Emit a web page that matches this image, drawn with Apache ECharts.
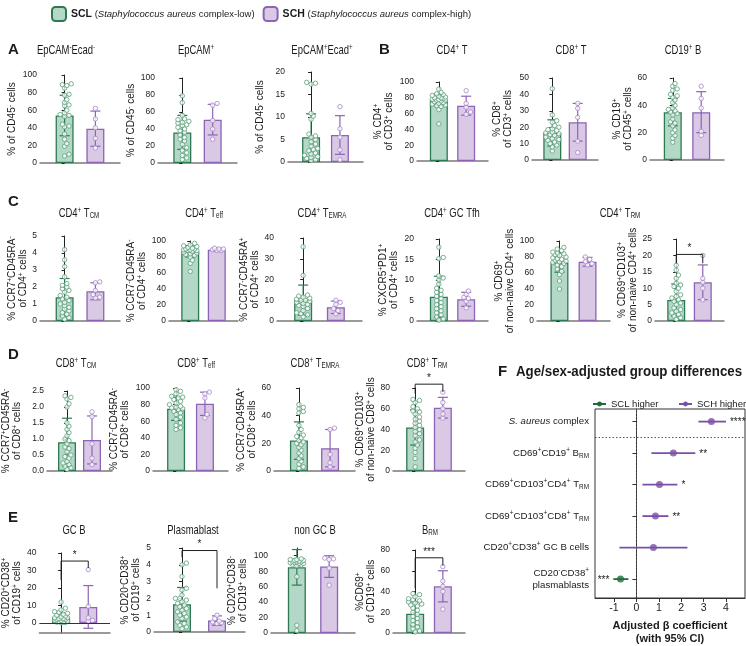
<!DOCTYPE html>
<html>
<head>
<meta charset="utf-8">
<script src="https://cdn.jsdelivr.net/npm/echarts@6/dist/echarts.min.js"></script>
<style>
  html, body { margin: 0; padding: 0; background: #fff; }
  #chart { width: 746px; height: 646px; }
</style>
</head>
<body>
<div id="chart"></div>
<script>
// ---- data ----
// points per panel (SCL = green, SCH = purple)
var epcamNegScl = [89, 85, 88, 90, 77, 78, 72, 69, 66, 65, 60, 57, 55, 54, 53, 44, 42, 41, 33, 27, 22, 19, 10, 8];
var epcamNegSch = [62, 50, 40, 28, 17];
var epcamPosScl = [79, 71, 56, 52, 51, 49, 48, 47, 45, 44, 42, 40, 38, 36, 33, 30, 28, 26, 22, 18, 15, 12, 9, 6, 4];
var epcamPosSch = [70, 68, 50, 40, 28];
var epcamEcadScl = [17.5, 17.3, 17.7, 10.8, 10.2, 9.5, 6.2, 5.8, 5.5, 5, 4.5, 4, 3.5, 3, 2.8, 2.5, 2, 1.8, 1.5, 1.2, 1, 0.8, 0.5, 0.3];
var epcamEcadSch = [12.3, 7.4, 5.5, 2.7, 0.5];
var cd4TScl = [91, 87, 85, 84, 83, 82, 81, 80, 80, 79, 78, 78, 77, 77, 76, 75, 74, 73, 72, 71, 70, 69, 65, 47];
var cd4TSch = [89, 73, 68, 62, 59];
var cd8TScl = [43.5, 27.5, 24, 23, 21, 20, 19, 18.5, 18, 17, 16.5, 16, 15.5, 15, 14, 13, 12.5, 12, 11, 10, 9, 8, 5.5];
var cd8TSch = [34.5, 31.5, 26, 11.5, 4.5];
var cd19BScl = [56, 54, 52, 51, 48, 47, 46, 44, 42, 40, 38, 37, 36, 35, 34, 33, 30, 28, 27, 25, 22, 20, 18, 16, 13];
var cd19BSch = [54, 45, 38, 21, 18];
var cd4TcmScl = [4.2, 3.6, 3.2, 2.6, 2.2, 2.1, 2.0, 1.9, 1.8, 1.7, 1.5, 1.4, 1.3, 1.2, 1.1, 1.0, 0.9, 0.8, 0.7, 0.6, 0.5, 0.4, 0.3, 0.2, 0.1];
var cd4TcmSch = [2.3, 2.25, 1.8, 1.55, 1.4, 1.35];
var cd4TeffScl = [97, 95, 94, 93, 92, 91, 90, 90, 89, 89, 88, 88, 87, 86, 85, 84, 83, 82, 80, 76, 72, 62];
var cd4TeffSch = [91, 90, 90, 89, 88, 88];
var cd4TemraScl = [35.8, 22, 12.5, 12, 11.5, 11, 10.5, 10, 10, 9.5, 9, 8.5, 8, 7.5, 7, 6, 5, 4, 3.5, 3, 2];
var cd4TemraSch = [10, 9, 8, 6, 5, 3.5];
var cd4TfhScl = [18, 15.5, 15.2, 11, 10.5, 10, 9, 8, 7.5, 7, 6.5, 6, 5.5, 5, 4.5, 4, 3.5, 3, 2.5, 2, 1.5, 1, 0.5, 0.2];
var cd4TfhSch = [7.3, 6.5, 5.8, 5.5, 4.8, 3.2];
var cd4Cd69Scl = [92, 90, 88, 86, 85, 84, 83, 82, 80, 79, 78, 77, 76, 75, 74, 73, 72, 70, 68, 65, 62, 58, 50, 40];
var cd4Cd69Sch = [80, 77, 74, 72, 70];
var cd4TrmScl = [17, 15.5, 14, 13, 11.5, 11, 10.5, 10, 9, 8, 7.5, 7, 6.5, 6, 5.5, 5, 4, 3.5, 3, 2.5, 2, 1.5, 1, 0.5];
var cd4TrmSch = [20, 13, 11.8, 10, 6.5];
var cd8TcmScl = [2.35, 2.3, 2.25, 2.1, 2.0, 1.5, 1.4, 1.3, 1.2, 1.1, 1.0, 0.95, 0.85, 0.75, 0.7, 0.6, 0.5, 0.45, 0.4, 0.3, 0.25, 0.2, 0.15, 0.1, 0.05];
var cd8TcmSch = [1.85, 1.7, 0.85, 0.4, 0.2];
var cd8TeffScl = [98, 96, 93, 90, 89, 88, 86, 84, 82, 80, 78, 77, 76, 75, 74, 72, 70, 68, 65, 62, 58, 55, 52, 50];
var cd8TeffSch = [95, 93, 88, 68, 64];
var cd8TemraScl = [48, 46, 45, 43, 42, 33, 30, 28, 26, 25, 24, 22, 21, 20, 19, 17, 15, 13, 11, 9, 7, 5, 3, 2];
var cd8TemraSch = [31, 30, 12, 6, 3];
var cd8TrmScl = [69, 68, 66, 62, 60, 58, 57, 55, 52, 50, 48, 46, 44, 42, 40, 38, 36, 34, 30, 28, 25, 22, 18, 12, 4];
var cd8TrmSch = [76, 66, 60, 55, 51];
var gcBScl = [12, 8.5, 7.5, 6.5, 6, 5.5, 5, 4.5, 4, 3.5, 3, 3, 2.5, 2.5, 2, 2, 1.5, 1.5, 1, 1, 0.5, 0.5, 0.3, 0.1];
var gcBSch = [30.5, 9.5, 3, 1.5, 1];
var plasmaScl = [4.1, 4.0, 3.3, 2.6, 2.5, 2.2, 2.0, 2.0, 1.9, 1.8, 1.7, 1.6, 1.5, 1.4, 1.3, 1.2, 1.1, 1.0, 0.9, 0.8, 0.6, 0.5, 0.4, 0.3, 0.2];
var plasmaSch = [1.0, 0.8, 0.65, 0.6, 0.55, 0.5];
var nonGcBScl = [96, 95, 95, 94, 94, 93, 93, 92, 92, 91, 91, 90, 90, 89, 88, 87, 73, 10, 3];
var nonGcBSch = [97, 96, 95, 84, 62];
var bRmScl = [38, 37, 35, 33, 32, 31, 30, 29, 28, 27, 26, 24, 22, 20, 18, 16, 14, 12, 10, 8, 6, 4, 2, 1];
var bRmSch = [64, 50, 45, 40, 23];

// bar height (mean) and error bar (SD), panel order A1..E4
var sclMean = [54, 36, 5.5, 77, 16.5, 35, 1.4, 87, 10, 5.9, 73, 6.4, 0.9, 75, 22, 42, 3.1, 1.65, 85, 18.5];
var sclSd   = [23, 20, 5.2, 7, 8, 10, 1.1, 7, 7.3, 5, 12, 4.9, 0.75, 14, 13.5, 17, 2.5, 1.0, 23, 11.5];
var schMean = [39, 51, 6, 70, 23, 35, 1.75, 89, 6.6, 5.3, 74, 11.8, 0.97, 81, 16.5, 61, 9.2, 0.68, 86, 45];
var schSd   = [20, 18, 4.3, 12, 11.5, 15, 0.5, 2, 3, 1.7, 5.5, 5.3, 0.75, 14, 13.5, 10, 12.2, 0.28, 14, 15];

// y axes
var yMin  = [0, 0, 0, 0, 0, 0, 0, 0, 0, 0, 0, 0, 0, 0, 0, 0, -5.7, 0, 0, 0];
var yMax  = [100, 100, 20, 100, 50, 60, 5, 100, 40, 20, 100, 25, 2.5, 100, 60, 80, 40, 5, 110, 80];
var yStep = [20, 20, 5, 20, 10, 20, 1, 20, 10, 5, 20, 5, 0.5, 20, 20, 20, 10, 1, 20, 20];

var yNames = [
  '% of CD45^- cells', '% of CD45^- cells', '% of CD45^- cells',
  '% CD4^+\nof CD3^+ cells', '% CD8^+\nof CD3^+ cells', '% CD19^+\nof CD45^+ cells',
  '% CCR7^+CD45RA^-\nof CD4^+ cells', '% CCR7^-CD45RA^-\nof CD4^+ cells', '% CCR7^-CD45RA^+\nof CD4^+ cells',
  '% CXCR5^+PD1^+\nof CD4^+ cells', '% CD69^+\nof non-naive CD4^+ cells', '% CD69^+CD103^+\nof non-naive CD4^+ cells',
  '% CCR7^+CD45RA^-\nof CD8^+ cells', '% CCR7^-CD45RA^-\nof CD8^+ cells', '% CCR7^-CD45RA^+\nof CD8^+ cells',
  '% CD69^+CD103^+\nof non-naive CD8^+ cells',
  '% CD20^+CD38^+\nof CD19^+ cells', '% CD20^-CD38^+\nof CD19^+ cells', '% CD20^+CD38^-\nof CD19^+ cells',
  '%CD69^+\nof CD19^+ cells'
];

var titleText = ['EpCAM^-Ecad^-', 'EpCAM^+', 'EpCAM^+Ecad^+', 'CD4^+ T', 'CD8^+ T', 'CD19^+ B',
  'CD4^+ T_{CM}', 'CD4^+ T_{eff}', 'CD4^+ T_{EMRA}', 'CD4^+ GC Tfh', 'CD4^+ T_{RM}',
  'CD8^+ T_{CM}', 'CD8^+ T_{eff}', 'CD8^+ T_{EMRA}', 'CD8^+ T_{RM}',
  'GC B', 'Plasmablast', 'non GC B', 'B_{RM}'];

// significance brackets: panel, bracket level, left leg end, right leg end, stars
var brackets = [
  [11, 20.3, 17.6, 17.6, '*'],
  [15, 83.7, 74.7, 76.2, '*'],
  [16, 35.4, 24.6, 31.4, '*'],
  [17, 4.85, 4.45, 2.6, '*'],
  [19, 72.5, 43, 65, '***']
];

// panel F
var forestLabels = ['~S. aureus~ complex', 'CD69^+CD19^+ B_{RM}', 'CD69^+CD103^+CD4^+ T_{RM}',
  'CD69^+CD103^+CD8^+ T_{RM}', 'CD20^+CD38^+ GC B cells', 'CD20^-CD38^+\nplasmablasts'];
var forestBeta = [3.35, 1.65, 1.03, 0.85, 0.76, -0.71];
var forestLow  = [2.77, 0.67, 0.27, 0.27, -0.76, -1.03];
var forestHigh = [4.0, 2.63, 1.83, 1.43, 2.28, -0.36];
var forestStars = ['****', '**', '*', '**', '', '***'];
var forestTicks = [-1, 0, 1, 2, 3, 4];

// ---- layout ----
var FONT = '"Liberation Sans", Arial, sans-serif';
var INK = '#1b1b1b';
var GREEN_FILL = '#b4d8c8', GREEN_LINE = '#2d7a50', GREEN_DOT = '#5a9f79';
var PURPLE_FILL = '#d9c9e5', PURPLE_LINE = '#8c63b5', PURPLE_DOT = '#a787c8';
var F_GREEN = '#1f6b3b', F_PURPLE = '#7b4fa6';
var X_MIN = -0.8, X_MAX = 1.8;

// left, top, width, height, nameGap
var layout = [
  [40, 75, 80, 88, 22], [158, 78, 79, 85, 19], [288, 72, 75, 90, 22],
  [417, 82, 71, 79, 22], [532, 78, 66, 82, 18], [650, 78, 74, 82, 14],
  [40, 236, 80, 85, 11], [169, 241, 69, 80, 21], [277, 238, 85, 83, 12],
  [417, 239, 71, 82, 17], [537, 241, 73, 80, 16], [655, 239, 69, 82, 12],
  [40, 391, 72, 80, 24], [153, 388, 75, 83, 22], [274, 388, 81, 83, 14], [393, 388, 72, 83, 14],
  [38, 553, 72, 80, 14], [154, 548, 91, 84, 12], [271, 548, 84, 85, 22], [393, 550, 72, 83, 14]
];
var titlePos = [[66, 50], [196, 50], [322, 50], [452, 50], [571, 50], [683, 50],
  [79, 213], [204, 213], [322, 213], [452, 213], [620, 213],
  [76, 363], [196, 363], [315, 363], [427, 363],
  [74, 530], [193, 530], [315, 530], [430, 530]];
var letters = [['A', 8, 50], ['B', 379, 50], ['C', 8, 202], ['D', 8, 355], ['E', 8, 518], ['F', 498, 372]];

var sclSets = [epcamNegScl, epcamPosScl, epcamEcadScl, cd4TScl, cd8TScl, cd19BScl,
  cd4TcmScl, cd4TeffScl, cd4TemraScl, cd4TfhScl, cd4Cd69Scl, cd4TrmScl,
  cd8TcmScl, cd8TeffScl, cd8TemraScl, cd8TrmScl, gcBScl, plasmaScl, nonGcBScl, bRmScl];
var schSets = [epcamNegSch, epcamPosSch, epcamEcadSch, cd4TSch, cd8TSch, cd19BSch,
  cd4TcmSch, cd4TeffSch, cd4TemraSch, cd4TfhSch, cd4Cd69Sch, cd4TrmSch,
  cd8TcmSch, cd8TeffSch, cd8TemraSch, cd8TrmSch, gcBSch, plasmaSch, nonGcBSch, bRmSch];

// tiny markup -> echarts rich text: ^x / ^{..} superscript, _{..} subscript, ~..~ italic
function rich(str) {
  return str.split('\n').map(function(line) {
    var out = '', buf = '';
    var flush = function() { if (buf) { out += '{n|' + buf + '}'; buf = ''; } };
    for (var i = 0; i < line.length; i++) {
      var c = line[i];
      if (c === '^' || c === '_') {
        flush();
        var t;
        if (line[i + 1] === '{') { var j = line.indexOf('}', i); t = line.slice(i + 2, j); i = j; }
        else { t = line[i + 1]; i++; }
        out += '{' + (c === '^' ? 'sup' : 'sub') + '|' + t + '}';
      } else if (c === '~') {
        flush();
        var k = line.indexOf('~', i + 1);
        out += '{i|' + line.slice(i + 1, k) + '}';
        i = k;
      } else {
        buf += c;
      }
    }
    flush();
    return out;
  }).join('\n');
}

function richStyle(size, weight) {
  var small = Math.round(size * 0.66 * 10) / 10;
  var mk = function(extra) {
    var s = { fontFamily: FONT, color: INK, fill: INK, fontWeight: weight || 'normal', fontSize: size };
    for (var key in extra) s[key] = extra[key];
    return s;
  };
  return {
    n: mk({}),
    i: mk({ fontStyle: 'italic' }),
    sup: mk({ fontSize: small, verticalAlign: 'top' }),
    sub: mk({ fontSize: small, verticalAlign: 'bottom' })
  };
}

// compact beeswarm: dots may overlap a little but stay inside the bar
function swarm(values, center, pxX, pxY) {
  var minDist = 3.4, step = 2.2, maxOff = 8;
  var order = values.map(function(v, i) { return i; }).sort(function(a, b) { return values[a] - values[b]; });
  var placed = [], out = [];
  order.forEach(function(i) {
    var py = values[i] * pxY, best = 0, bestGap = -1;
    for (var k = 0; k < 20; k++) {
      var cand = k === 0 ? 0 : (k % 2 ? 1 : -1) * Math.ceil(k / 2) * step;
      if (Math.abs(cand) > maxOff) break;
      var gap = Infinity;
      placed.forEach(function(p) {
        var dd = Math.sqrt((p[0] - cand) * (p[0] - cand) + (p[1] - py) * (p[1] - py));
        if (dd < gap) gap = dd;
      });
      if (gap >= minDist) { best = cand; bestGap = gap; break; }
      if (gap > bestGap) { bestGap = gap; best = cand; }
    }
    placed.push([best, py]);
    out.push([center + best / pxX, values[i]]);
  });
  return out;
}

var grids = [], xAxes = [], yAxes = [], series = [], graphics = [];

layout.forEach(function(g, i) {
  grids.push({ left: g[0], top: g[1], width: g[2], height: g[3] });
  xAxes.push({
    gridIndex: i, type: 'value', min: X_MIN, max: X_MAX,
    axisLine: { show: true, onZero: false, lineStyle: { color: '#7a7a7a', width: 1.5 } },
    axisTick: { show: false }, axisLabel: { show: false }, splitLine: { show: false }
  });
  var ticks = [];
  for (var v = 0; v <= yMax[i] + 1e-9 && v <= 100 + 1e-9; v += yStep[i]) ticks.push(Math.round(v * 100) / 100);
  yAxes.push({
    gridIndex: i, type: 'value', min: yMin[i], max: yMax[i],
    axisLine: { show: true, lineStyle: { color: '#222', width: 1 } },
    axisTick: { show: true, length: 3, customValues: ticks, lineStyle: { color: '#222' } },
    axisLabel: {
      customValues: ticks, fontSize: 8.5, color: INK, fontFamily: FONT, margin: 3,
      formatter: (function(st) { return function(val) { return st < 1 ? val.toFixed(1) : String(val); }; })(yStep[i])
    },
    splitLine: { show: false },
    name: rich(yNames[i]), nameLocation: 'middle', nameRotate: 90, nameGap: g[4],
    nameTextStyle: { fontSize: 10, lineHeight: 11, fontFamily: FONT, color: INK, rich: richStyle(10) }
  });

  var pxX = g[2] / (X_MAX - X_MIN), pxY = g[3] / (yMax[i] - yMin[i]);

  var sclBar = {
    name: 'SCL', type: 'bar', xAxisIndex: i, yAxisIndex: i, barWidth: 18, z: 2,
    itemStyle: { color: GREEN_FILL, borderColor: GREEN_LINE, borderWidth: 1.3 },
    data: [[0, sclMean[i]]]
  };
  if (yMin[i] < 0) {
    sclBar.markLine = {
      silent: true, symbol: 'none', label: { show: false },
      lineStyle: { color: '#333', width: 1, type: 'solid' }, data: [{ yAxis: 0 }]
    };
  }
  series.push(sclBar);
  series.push({
    name: 'SCH', type: 'bar', xAxisIndex: i, yAxisIndex: i, barWidth: 18, barGap: '-100%', z: 2,
    itemStyle: { color: PURPLE_FILL, borderColor: PURPLE_LINE, borderWidth: 1.3 },
    data: [[1, schMean[i]]]
  });
  // error bars (mean +/- SD)
  series.push({
    type: 'custom', xAxisIndex: i, yAxisIndex: i, z: 3, silent: true,
    data: [[0, sclMean[i], sclSd[i], 0], [1, schMean[i], schSd[i], 1]],
    renderItem: function(params, api) {
      var x = api.value(0), m = api.value(1), s = api.value(2);
      var c = api.value(3) ? PURPLE_LINE : GREEN_LINE;
      var hi = api.coord([x, m + s]), lo = api.coord([x, m - s]);
      var bottom = params.coordSys.y + params.coordSys.height;
      var st = { stroke: c, lineWidth: 1.2 };
      var kids = [
        { type: 'line', shape: { x1: hi[0], y1: hi[1], x2: hi[0], y2: Math.min(lo[1], bottom) }, style: st },
        { type: 'line', shape: { x1: hi[0] - 5, y1: hi[1], x2: hi[0] + 5, y2: hi[1] }, style: st }
      ];
      if (lo[1] < bottom) kids.push({ type: 'line', shape: { x1: lo[0] - 5, y1: lo[1], x2: lo[0] + 5, y2: lo[1] }, style: st });
      return { type: 'group', children: kids };
    }
  });
  // individual samples
  series.push({
    type: 'scatter', xAxisIndex: i, yAxisIndex: i, z: 4, symbolSize: 4.4, silent: true,
    itemStyle: { color: '#fff', borderColor: GREEN_DOT, borderWidth: 1 },
    data: swarm(sclSets[i], 0, pxX, pxY)
  });
  series.push({
    type: 'scatter', xAxisIndex: i, yAxisIndex: i, z: 4, symbolSize: 4.4, silent: true,
    itemStyle: { color: '#fff', borderColor: PURPLE_DOT, borderWidth: 1 },
    data: swarm(schSets[i], 1, pxX, pxY)
  });
});

brackets.forEach(function(b) {
  var i = b[0];
  series.push({
    type: 'custom', xAxisIndex: i, yAxisIndex: i, z: 5, silent: true, clip: false,
    data: [[b[1], b[2], b[3]]],
    renderItem: function(params, api) {
      var lvl = api.coord([0, api.value(0)])[1];
      var l = api.coord([0, api.value(1)]), r = api.coord([1, api.value(2)]);
      return { type: 'group', children: [
        { type: 'polyline', shape: { points: [[l[0], l[1]], [l[0], lvl], [r[0], lvl], [r[0], r[1]]] },
          style: { stroke: '#222', lineWidth: 1, fill: null } },
        { type: 'text', x: (l[0] + r[0]) / 2, y: lvl - 1,
          style: { text: b[4], fontSize: 10, fontFamily: FONT, fill: INK, align: 'center', verticalAlign: 'bottom' } }
      ] };
    }
  });
});

// ---- panel F: forest plot ----
var fi = layout.length;
grids.push({ left: 595, top: 409, width: 150, height: 190, show: true, borderColor: '#333', borderWidth: 1 });
xAxes.push({
  gridIndex: fi, type: 'value', min: -1.85, max: 4.85,
  axisLine: { show: true, onZero: false, lineStyle: { color: '#333' } },
  axisTick: { show: true, length: 4, customValues: forestTicks, lineStyle: { color: '#333' } },
  axisLabel: { customValues: forestTicks, fontSize: 10.5, color: INK, fontFamily: FONT, margin: 5 },
  splitLine: { show: false },
  name: 'Adjusted β coefficient\n(with 95% CI)', nameLocation: 'middle', nameGap: 21,
  nameTextStyle: { fontSize: 11, fontWeight: 'bold', lineHeight: 13, color: INK, fontFamily: FONT }
});
yAxes.push({
  gridIndex: fi, type: 'value', min: -0.4, max: 5.6, inverse: true,
  axisLine: { show: true, lineStyle: { color: '#333' } },
  axisTick: { show: true, length: 4, customValues: [0, 1, 2, 3, 4, 5], lineStyle: { color: '#333' } },
  axisLabel: {
    customValues: [0, 1, 2, 3, 4, 5], fontSize: 9.7, color: INK, fontFamily: FONT, margin: 6, lineHeight: 12,
    formatter: function(val) { return rich(forestLabels[Math.round(val)]); },
    rich: richStyle(9.7)
  },
  splitLine: { show: false }
});
series.push({
  type: 'custom', xAxisIndex: fi, yAxisIndex: fi, z: 3, silent: true,
  data: forestBeta.map(function(b, r) { return [forestLow[r], forestHigh[r], r, b < 0 ? 1 : 0]; }),
  renderItem: function(params, api) {
    var lo = api.coord([api.value(0), api.value(2)]), hi = api.coord([api.value(1), api.value(2)]);
    var neg = api.value(3) === 1;
    return { type: 'group', children: [
      { type: 'line', shape: { x1: lo[0], y1: lo[1], x2: hi[0], y2: hi[1] },
        style: { stroke: neg ? F_GREEN : F_PURPLE, lineWidth: 1.8 } },
      { type: 'text', x: neg ? lo[0] - 4 : hi[0] + 4, y: hi[1] + 1,
        style: { text: forestStars[params.dataIndex], fontSize: 10, fontFamily: FONT, fill: INK,
          align: neg ? 'right' : 'left', verticalAlign: 'middle' } }
    ] };
  }
});
series.push({
  type: 'scatter', xAxisIndex: fi, yAxisIndex: fi, z: 4, symbolSize: 7, silent: true,
  data: forestBeta.map(function(b, r) {
    return { value: [b, r], itemStyle: { color: b < 0 ? F_GREEN : F_PURPLE } };
  }),
  markLine: {
    silent: true, symbol: 'none', label: { show: false },
    lineStyle: { color: '#555', width: 1, type: [1.5, 2] },
    data: [{ xAxis: 0 }, { yAxis: 0.5 }]
  }
});
// legend-only series for panel F
series.push({ name: 'SCL higher', type: 'line', xAxisIndex: fi, yAxisIndex: fi, data: [],
  color: F_GREEN, symbol: 'circle', symbolSize: 5, lineStyle: { color: F_GREEN, width: 1.5 } });
series.push({ name: 'SCH higher', type: 'line', xAxisIndex: fi, yAxisIndex: fi, data: [],
  color: F_PURPLE, symbol: 'circle', symbolSize: 5, lineStyle: { color: F_PURPLE, width: 1.5 } });

// ---- titles / panel letters (condensed like the original lettering) ----
titleText.forEach(function(t, i) {
  graphics.push({ type: 'text', x: titlePos[i][0], y: titlePos[i][1], scaleX: 0.7, silent: true,
    style: { text: rich(t), rich: richStyle(13.5), fontSize: 13.5, fontFamily: FONT, fill: INK,
      align: 'center', verticalAlign: 'middle' } });
});
letters.forEach(function(l) {
  graphics.push({ type: 'text', x: l[1], y: l[2], silent: true,
    style: { text: l[0], fontSize: 15, fontWeight: 'bold', fontFamily: FONT,
      fill: INK, align: 'left', verticalAlign: 'middle' } });
});
graphics.push({ type: 'text', x: 629, y: 372, scaleX: 0.95, silent: true,
  style: { text: 'Age/sex-adjusted group differences', fontSize: 14, fontWeight: 'bold', fontFamily: FONT,
    fill: INK, align: 'center', verticalAlign: 'middle' } });

var legendText = { fontSize: 9.5, color: INK, fontFamily: FONT };
var chart = echarts.init(document.getElementById('chart'), null, { renderer: 'canvas' });
chart.setOption({
  backgroundColor: '#fff',
  animation: false,
  textStyle: { fontFamily: FONT },
  legend: [{
    data: ['SCL', 'SCH'], left: 51, top: 6, padding: 0, itemWidth: 14, itemHeight: 14, itemGap: 8,
    selectedMode: false,
    formatter: function(name) {
      return name === 'SCL'
        ? '{b|SCL} ({i|Staphylococcus aureus} complex-low)'
        : '{b|SCH} ({i|Staphylococcus aureus} complex-high)';
    },
    textStyle: { fontSize: 9.5, color: INK, fontFamily: FONT, rich: {
      b: { fontSize: 10.5, fontWeight: 'bold', color: INK, fontFamily: FONT },
      i: { fontSize: 9.5, fontStyle: 'italic', color: INK, fontFamily: FONT } } }
  }, {
    data: ['SCL higher'], left: 592, top: 399, padding: 0, itemWidth: 13, itemHeight: 6,
    selectedMode: false, textStyle: legendText
  }, {
    data: ['SCH higher'], left: 678, top: 399, padding: 0, itemWidth: 13, itemHeight: 6,
    selectedMode: false, textStyle: legendText
  }],
  grid: grids,
  xAxis: xAxes,
  yAxis: yAxes,
  series: series,
  graphic: graphics
});
</script>
</body>
</html>
